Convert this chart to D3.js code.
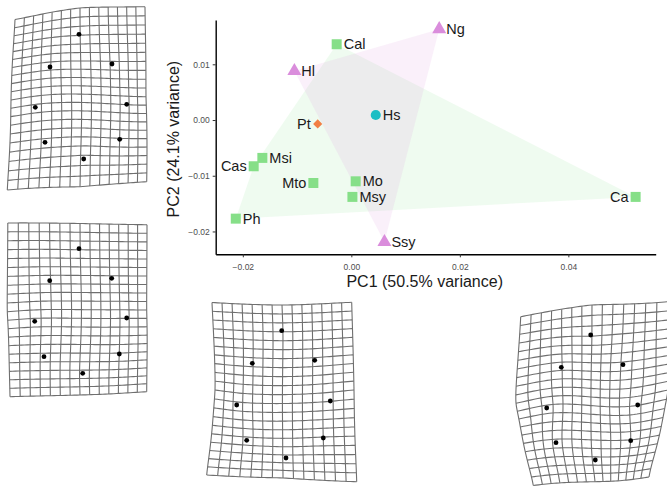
<!DOCTYPE html>
<html>
<head>
<meta charset="utf-8">
<script src="https://cdn.jsdelivr.net/npm/d3@7"></script>
<style>
  body { margin: 0; background: #fff; }
  svg { display: block; font-family: "Liberation Sans", Arial, sans-serif; }
</style>
</head>
<body>
<div id="chart"></div>
<script>
// PCA scores
const names = ["Ng", "Cal", "Hl", "Hs", "Pt", "Msi", "Cas", "Mto", "Mo", "Msy", "Ca", "Ph", "Ssy"];
const pc1 = [0.0162, -0.0027, -0.0105, 0.0045, -0.0062, -0.0164, -0.0180, -0.0070, 0.0008, 0.0002, 0.0524, -0.0213, 0.0061];
const pc2 = [0.0163, 0.0136, 0.0088, 0.0009, -0.0007, -0.0068, -0.0083, -0.0113, -0.0110, -0.0138, -0.0138, -0.0177, -0.0219];
const groups = ["tri", "sq", "tri", "circ", "dia", "sq", "sq", "sq", "sq", "sq", "sq", "sq", "tri"];

const xTicks = [-0.02, 0, 0.02, 0.04];
const yTicks = [-0.02, -0.01, 0, 0.01];
const xTitle = "PC1 (50.5% variance)";
const yTitle = "PC2 (24.1% variance)";

// landmark configurations (shape units, y up)
const refLandmarks = [[-0.022, 0.681], [-0.314, 0.357], [0.306, 0.385], [-0.464, -0.051],
  [0.456, -0.018], [-0.368, -0.402], [0.385, -0.377], [0.022, -0.573]];
// undeformed grid frame: corners + edge mids (TL, T, TR, R, BR, B, BL, L)
const refFrame = [[-0.70, 0.93], [-0.01, 0.93], [0.68, 0.93], [0.68, 0.065],
  [0.68, -0.80], [-0.01, -0.80], [-0.70, -0.80], [-0.70, 0.065]];

const targetLandmarks = [
  [[-0.024, 0.679], [-0.314, 0.352], [0.306, 0.382], [-0.461, -0.051], [0.453, -0.021], [-0.364, -0.401], [0.383, -0.371], [0.023, -0.568]],
  [[-0.020, 0.677], [-0.313, 0.357], [0.307, 0.381], [-0.463, -0.049], [0.457, -0.016], [-0.370, -0.403], [0.383, -0.376], [0.017, -0.569]],
  [[-0.023, 0.689], [-0.317, 0.363], [0.307, 0.393], [-0.473, -0.054], [0.463, -0.014], [-0.373, -0.407], [0.393, -0.384], [0.020, -0.584]],
  [[-0.020, 0.679], [-0.314, 0.356], [0.303, 0.382], [-0.460, -0.051], [0.450, -0.021], [-0.367, -0.398], [0.380, -0.378], [0.026, -0.571]]
];
const targetFrame = [
  [[-0.664, 0.827], [-0.014, 0.942], [0.636, 0.955], [0.646, 0.055], [0.653, -0.795], [-0.014, -0.845], [-0.741, -0.878], [-0.704, 0.022]],
  [[-0.732, 0.934], [-0.010, 0.929], [0.660, 0.917], [0.657, 0.064], [0.657, -0.753], [-0.010, -0.786], [-0.710, -0.803], [-0.737, 0.047]],
  [[-0.720, 0.971], [-0.020, 0.946], [0.677, 0.973], [0.700, 0.096], [0.727, -0.821], [-0.010, -0.784], [-0.773, -0.754], [-0.690, 0.096]],
  [[-0.720, 0.862], [-0.007, 0.979], [0.753, 1.012], [0.753, 0.129], [0.563, -0.741], [0.023, -0.788], [-0.594, -0.826], [-0.767, -0.004]]
];
const gridCols = 15;
const gridRows = 21;

const WIDTH = 667;
const HEIGHT = 488;
const PLOT = { left: 215.7, right: 655.7, top: 20, bottom: 254.3 };
const PANELS = [[81.4, 102.2], [81.0, 316.4], [284.0, 399.6], [592.7, 402.9]];
const PX_PER_UNIT = 100;

const COLORS = { sq: "#86df88", tri: "#da8ddc", circ: "#1cbec4", dia: "#f27f45" };

const svg = d3.select("#chart").append("svg")
  .attr("width", WIDTH).attr("height", HEIGHT);

// ---- thin plate spline ----
function U(r2) { return r2 === 0 ? 0 : r2 * Math.log(r2); }

function solve(A, b) {
  const n = b.length;
  const M = A.map((row, i) => row.concat([b[i]]));
  for (let c = 0; c < n; c++) {
    let p = c;
    for (let r = c + 1; r < n; r++) if (Math.abs(M[r][c]) > Math.abs(M[p][c])) p = r;
    [M[c], M[p]] = [M[p], M[c]];
    for (let r = c + 1; r < n; r++) {
      const f = M[r][c] / M[c][c];
      for (let k = c; k <= n; k++) M[r][k] -= f * M[c][k];
    }
  }
  const x = new Array(n).fill(0);
  for (let r = n - 1; r >= 0; r--) {
    let s = M[r][n];
    for (let k = r + 1; k < n; k++) s -= M[r][k] * x[k];
    x[r] = s / M[r][r];
  }
  return x;
}

function tps(src, dst) {
  const n = src.length;
  const L = [];
  for (let i = 0; i < n + 3; i++) L.push(new Array(n + 3).fill(0));
  for (let i = 0; i < n; i++) {
    for (let j = 0; j < n; j++) {
      const dx = src[i][0] - src[j][0], dy = src[i][1] - src[j][1];
      L[i][j] = U(dx * dx + dy * dy);
    }
    L[i][n] = 1; L[i][n + 1] = src[i][0]; L[i][n + 2] = src[i][1];
    L[n][i] = 1; L[n + 1][i] = src[i][0]; L[n + 2][i] = src[i][1];
  }
  const wx = solve(L, dst.map(d => d[0]).concat([0, 0, 0]));
  const wy = solve(L, dst.map(d => d[1]).concat([0, 0, 0]));
  return function (p) {
    let fx = wx[n] + wx[n + 1] * p[0] + wx[n + 2] * p[1];
    let fy = wy[n] + wy[n + 1] * p[0] + wy[n + 2] * p[1];
    for (let i = 0; i < n; i++) {
      const dx = p[0] - src[i][0], dy = p[1] - src[i][1];
      const u = U(dx * dx + dy * dy);
      fx += wx[i] * u; fy += wy[i] * u;
    }
    return [fx, fy];
  };
}

// ---- deformation grids ----
const gx0 = refFrame[0][0], gx1 = refFrame[2][0];
const gy0 = refFrame[4][1], gy1 = refFrame[0][1];
const colVals = d3.range(gridCols).map(i => gx0 + (gx1 - gx0) * i / (gridCols - 1));
const rowVals = d3.range(gridRows).map(i => gy0 + (gy1 - gy0) * i / (gridRows - 1));
const STEPS = 48;

PANELS.forEach((c, k) => {
  const sx = d3.scaleLinear().domain([0, 1]).range([c[0], c[0] + PX_PER_UNIT]);
  const sy = d3.scaleLinear().domain([0, 1]).range([c[1], c[1] - PX_PER_UNIT]);
  const warp = tps(refLandmarks.concat(refFrame), targetLandmarks[k].concat(targetFrame[k]));
  const line = d3.line().x(d => sx(d[0])).y(d => sy(d[1]));

  const g = svg.append("g").attr("class", "grid-panel");
  const lines = [];
  colVals.forEach(x => lines.push(d3.range(STEPS + 1).map(s => warp([x, gy0 + (gy1 - gy0) * s / STEPS]))));
  rowVals.forEach(y => lines.push(d3.range(STEPS + 1).map(s => warp([gx0 + (gx1 - gx0) * s / STEPS, y]))));

  g.selectAll("path").data(lines).join("path")
    .attr("d", line)
    .attr("fill", "none")
    .attr("stroke", "#6f6f6f")
    .attr("stroke-width", 1.1);

  g.selectAll("circle").data(targetLandmarks[k]).join("circle")
    .attr("cx", d => sx(d[0]))
    .attr("cy", d => sy(d[1]))
    .attr("r", 2.4)
    .attr("fill", "#000");
});

// ---- PCA scatter ----
const x = d3.scaleLinear().domain([-0.025, 0.0561]).range([PLOT.left, PLOT.right]);
const y = d3.scaleLinear().domain([-0.0241, 0.01795]).range([PLOT.bottom, PLOT.top]);

const pts = names.map((n, i) => ({ name: n, px: x(pc1[i]), py: y(pc2[i]), group: groups[i] }));

// convex hulls
[["sq", 0.13], ["tri", 0.13]].forEach(([grp, op]) => {
  const hull = d3.polygonHull(pts.filter(p => p.group === grp).map(p => [p.px, p.py]));
  svg.append("path")
    .attr("d", "M" + hull.join("L") + "Z")
    .attr("fill", COLORS[grp])
    .attr("fill-opacity", op)
    .attr("stroke", "none");
});

const symbolType = { sq: d3.symbolSquare, tri: d3.symbolTriangle, circ: d3.symbolCircle, dia: d3.symbolSquare };
const symbolSize = { sq: 100, tri: 85, circ: 80, dia: 42 };

svg.append("g").selectAll("path").data(pts).join("path")
  .attr("d", d => d3.symbol().type(symbolType[d.group]).size(symbolSize[d.group])())
  .attr("transform", d => `translate(${d.px},${d.py})` + (d.group === "dia" ? " rotate(45)" : ""))
  .attr("fill", d => COLORS[d.group]);

const leftLabels = new Set(["Pt", "Cas", "Mto", "Ca"]);
svg.append("g").selectAll("text").data(pts).join("text")
  .attr("x", d => leftLabels.has(d.name) ? d.px - 7 : d.px + 7)
  .attr("y", d => d.py)
  .attr("dy", "0.35em")
  .attr("text-anchor", d => leftLabels.has(d.name) ? "end" : "start")
  .style("font-size", "14.5px")
  .attr("fill", "#1a1a1a")
  .text(d => d.name);

// axes
const xAxis = svg.append("g")
  .attr("transform", `translate(0,${PLOT.bottom})`)
  .call(d3.axisBottom(x).tickValues(xTicks).tickFormat(d3.format(".2f")).tickSize(3).tickSizeOuter(0));
const yAxis = svg.append("g")
  .attr("transform", `translate(${PLOT.left},0)`)
  .call(d3.axisLeft(y).tickValues(yTicks).tickFormat(d3.format(".2f")).tickSize(3).tickSizeOuter(0));

[xAxis, yAxis].forEach(a => {
  a.select(".domain").attr("stroke", "#000").attr("stroke-width", 1.4);
  a.selectAll(".tick line").attr("stroke", "#333");
  a.selectAll(".tick text").attr("fill", "#4d4d4d").style("font-size", "8.5px");
});
xAxis.selectAll(".tick text").attr("dy", "1.1em");

svg.append("text")
  .attr("x", (PLOT.left + PLOT.right) / 2 - 11)
  .attr("y", 287)
  .attr("text-anchor", "middle")
  .style("font-size", "16px")
  .attr("fill", "#1a1a1a")
  .text(xTitle);

svg.append("text")
  .attr("transform", `translate(179,${(PLOT.top + PLOT.bottom) / 2 + 2}) rotate(-90)`)
  .attr("text-anchor", "middle")
  .style("font-size", "16px")
  .attr("fill", "#1a1a1a")
  .text(yTitle);
</script>
</body>
</html>
